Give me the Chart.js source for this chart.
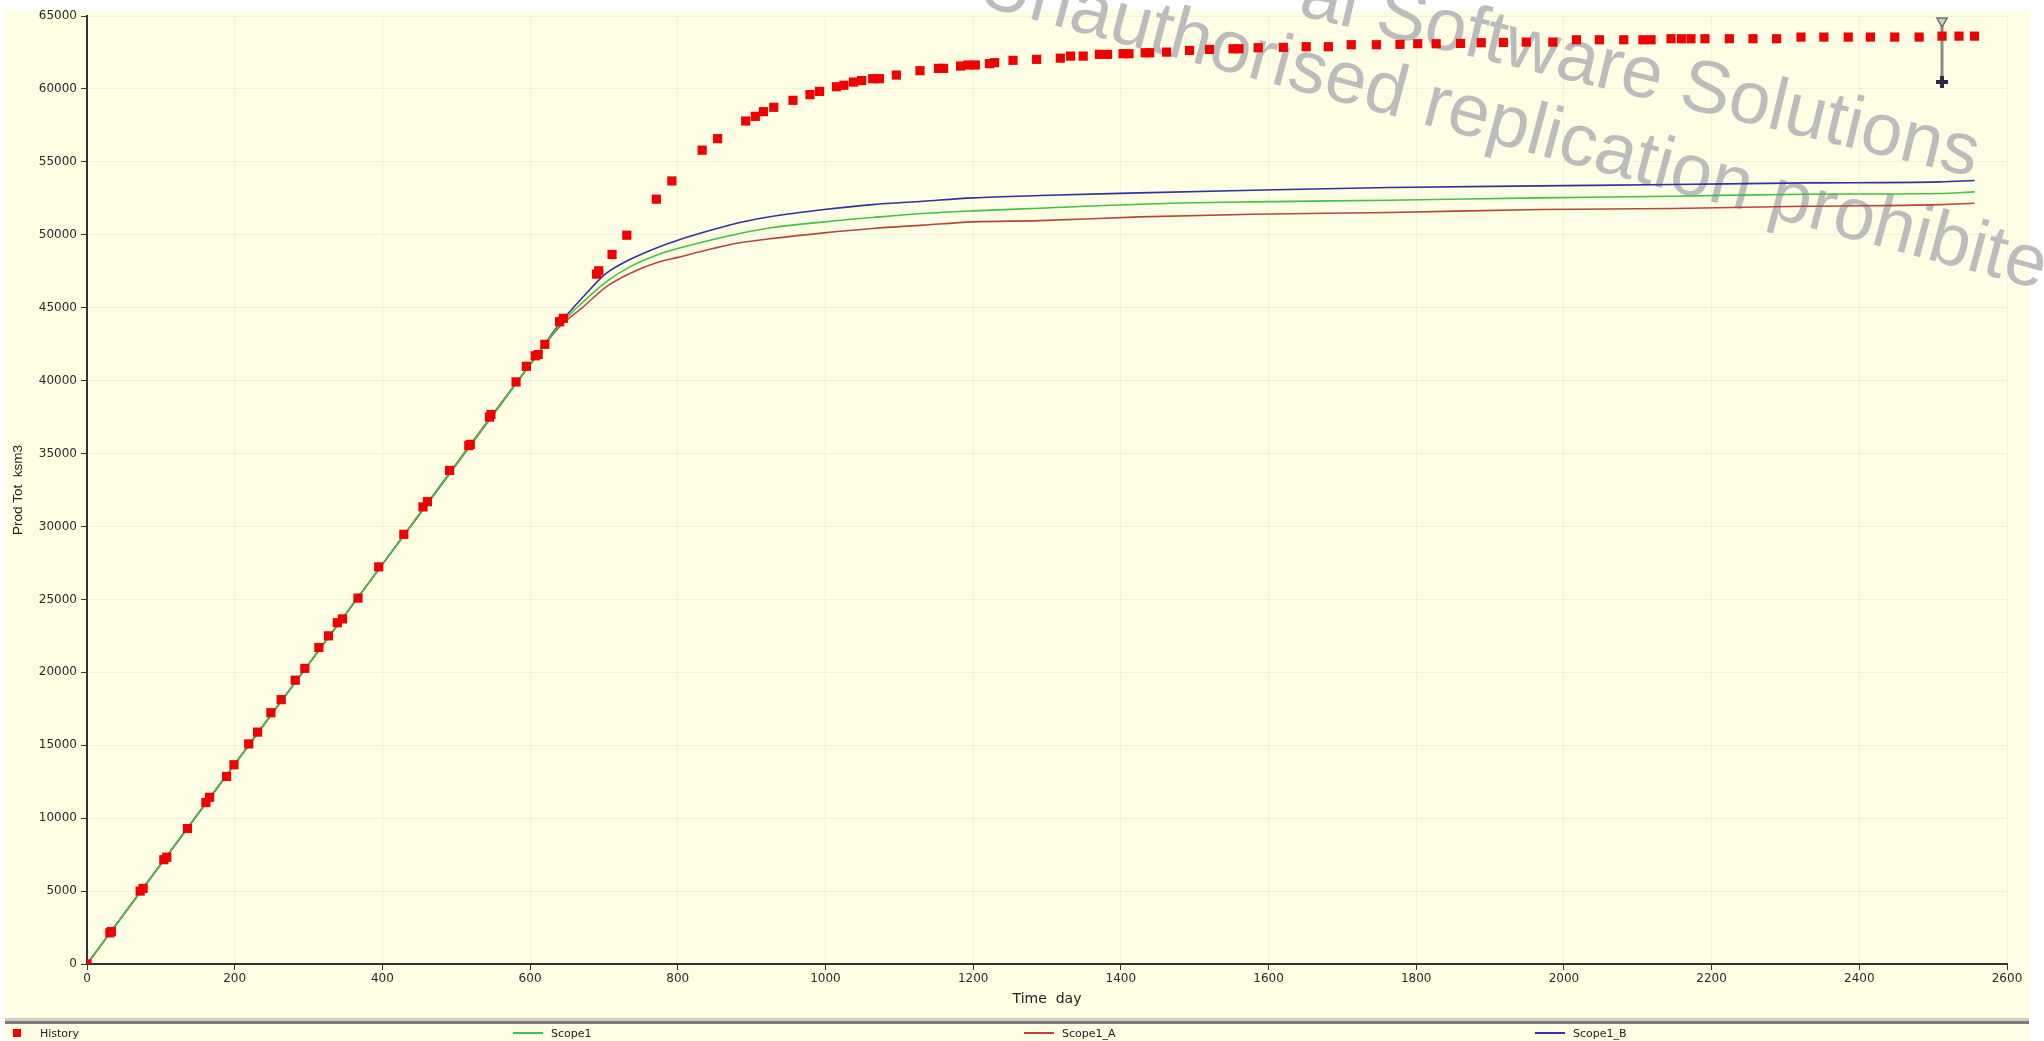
<!DOCTYPE html>
<html>
<head>
<meta charset="utf-8">
<script src="https://cdn.jsdelivr.net/npm/chart.js@4.4.1/dist/chart.umd.min.js"></script>
<style>
  html, body { margin: 0; padding: 0; background: #ffffff; }
  #wrap { position: relative; width: 2044px; height: 1041px; overflow: hidden; }
  #legend { position: absolute; left: 0; top: 1025px; width: 2044px; height: 16px; display: flex; }
  .item { width: 511px; display: flex; align-items: center; font: 11px "DejaVu Sans", sans-serif; color: #222; }
  .mark { width: 30px; margin-left: 2px; margin-right: 8px; display: flex; justify-content: center; align-items: center; }
</style>
</head>
<body>
<div id="wrap">
  <canvas id="prod-chart"></canvas>
  <div id="legend"></div>
</div>
<script>
// History (measured) cumulative production, day / ksm3
const historyDays = [0, 31, 33, 72, 76, 104, 108, 136, 161, 166, 189, 199, 219, 231, 249, 263, 282, 295, 314, 327, 339, 346, 367, 395, 429, 455, 461, 491, 517, 519, 545, 547, 581, 595, 607, 611, 620, 640, 645, 690, 693, 711, 731, 771, 792, 833, 854, 892, 905, 916, 930, 956, 979, 992, 1015, 1025, 1038, 1049, 1064, 1073, 1096, 1128, 1153, 1160, 1183, 1193, 1203, 1222, 1229, 1254, 1286, 1318, 1332, 1349, 1371, 1382, 1403, 1411, 1433, 1439, 1462, 1493, 1520, 1552, 1560, 1586, 1620, 1651, 1681, 1712, 1746, 1778, 1802, 1827, 1860, 1888, 1918, 1949, 1985, 2017, 2048, 2081, 2107, 2118, 2145, 2159, 2172, 2191, 2224, 2256, 2288, 2321, 2352, 2385, 2415, 2448, 2481, 2512, 2535, 2556];
const historyProd = [0, 2140, 2230, 5000, 5180, 7150, 7320, 9290, 11070, 11430, 12860, 13660, 15090, 15900, 17230, 18125, 19460, 20270, 21700, 22500, 23400, 23660, 25090, 27230, 29460, 31340, 31700, 33840, 35540, 35630, 37500, 37680, 39910, 40980, 41700, 41790, 42490, 44040, 44270, 47300, 47530, 48650, 49970, 52440, 53690, 55800, 56590, 57800, 58120, 58440, 58740, 59220, 59610, 59830, 60150, 60250, 60470, 60570, 60700, 60700, 60950, 61250, 61410, 61410, 61570, 61640, 61640, 61730, 61800, 61960, 62030, 62110, 62250, 62250, 62370, 62370, 62415, 62415, 62480, 62480, 62525, 62640, 62710, 62755, 62755, 62825, 62850, 62895, 62895, 63030, 63030, 63055, 63100, 63100, 63120, 63170, 63190, 63210, 63210, 63370, 63370, 63370, 63370, 63370, 63440, 63440, 63440, 63440, 63440, 63440, 63440, 63555, 63555, 63555, 63555, 63555, 63555, 63620, 63620, 63620];

// simulation cases
const simDays = [0, 200, 400, 600, 640, 672, 703, 735, 771, 800, 848, 884, 929, 998, 1064, 1132, 1200, 1290, 1425, 1579, 1764, 1967, 2148, 2328, 2509, 2556];
const scope1Prod = [0, 13700, 27400, 41100, 43800, 45400, 46770, 47800, 48600, 49060, 49680, 50090, 50500, 50885, 51185, 51460, 51640, 51820, 52095, 52255, 52370, 52530, 52645, 52780, 52830, 52940];
const scope1AProd = [0, 13700, 27400, 41100, 43700, 45060, 46430, 47350, 48080, 48450, 49060, 49450, 49750, 50130, 50430, 50660, 50885, 50970, 51225, 51410, 51530, 51730, 51800, 51960, 52070, 52165];
const scope1BProd = [0, 13700, 27400, 41100, 43900, 45750, 47350, 48300, 49100, 49630, 50360, 50840, 51270, 51730, 52070, 52300, 52530, 52690, 52870, 53055, 53240, 53350, 53445, 53555, 53625, 53720];

// range marker near the end of history
const markerDays = [2512, 2512];
const markerProd = [64650, 60470];

const seriesNames = ['History', 'Scope1', 'Scope1_A', 'Scope1_B'];
const seriesColors = ['#f00000', '#44c044', '#b5483c', '#32329a'];

function toPoints(xs, ys) {
    return xs.map((x, i) => ({ x: x, y: ys[i] }));
}

const backgroundPlugin = {
    id: 'background',
    beforeDraw(chart) {
        const c = chart.ctx;
        c.save();
        c.fillStyle = '#ffffff';
        c.fillRect(0, 0, chart.width, chart.height);
        c.fillStyle = '#fefee4';
        c.fillRect(5, 10, 2024, chart.height - 10);
        // separator above legend
        c.fillStyle = '#cfcfc8';
        c.fillRect(5, 1018, 2024, 3);
        c.fillStyle = '#7c7c7c';
        c.fillRect(5, 1021, 2024, 3);
        c.restore();
    }
};

const watermarkPlugin = {
    id: 'watermark',
    beforeDatasetsDraw(chart) {
        const c = chart.ctx;
        c.save();
        c.fillStyle = '#bcbcbc';
        c.font = '74px "Liberation Sans", Arial, sans-serif';
        c.textBaseline = 'alphabetic';

        c.save();
        c.translate(1973, 177);
        c.rotate(13.5 * Math.PI / 180);
        c.textAlign = 'right';
        c.fillText('al Software Solutions', 0, 0);
        c.restore();

        c.save();
        c.translate(975, 4);
        c.rotate(15 * Math.PI / 180);
        c.textAlign = 'left';
        c.fillText('Unauthorised replication prohibited', 0, 0);
        c.restore();

        c.restore();
    }
};

function plainNumber(value) {
    return String(value);
}

function renderProdChart() {
    const ctx = document.getElementById('prod-chart').getContext('2d');

    const chart = new Chart(ctx, {
        type: 'line',
        data: {
            datasets: [
                {
                    label: seriesNames[0],
                    data: toPoints(historyDays, historyProd),
                    showLine: false,
                    pointStyle: 'rect',
                    pointRadius: 6.5,
                    pointBorderWidth: 0,
                    pointBackgroundColor: seriesColors[0],
                    borderColor: seriesColors[0]
                },
                {
                    label: seriesNames[1],
                    data: toPoints(simDays, scope1Prod),
                    borderColor: seriesColors[1],
                    borderWidth: 1.6,
                    pointRadius: 0,
                    cubicInterpolationMode: 'monotone'
                },
                {
                    label: seriesNames[2],
                    data: toPoints(simDays, scope1AProd),
                    borderColor: seriesColors[2],
                    borderWidth: 1.6,
                    pointRadius: 0,
                    cubicInterpolationMode: 'monotone'
                },
                {
                    label: seriesNames[3],
                    data: toPoints(simDays, scope1BProd),
                    borderColor: seriesColors[3],
                    borderWidth: 1.6,
                    pointRadius: 0,
                    cubicInterpolationMode: 'monotone'
                },
                {
                    label: 'marker',
                    data: toPoints(markerDays, markerProd),
                    borderColor: '#8c8c86',
                    borderWidth: 3,
                    pointStyle: ['triangle', 'cross'],
                    rotation: [180, 0],
                    pointRadius: [6, 6],
                    pointBorderWidth: [1.5, 4],
                    pointBorderColor: ['#6e6e6e', '#2a2a44'],
                    pointBackgroundColor: ['#cfcfc4', '#2a2a44']
                }
            ]
        },
        options: {
            responsive: true,
            maintainAspectRatio: false,
            animation: false,
            layout: {
                padding: { left: 0, top: 16, right: 37, bottom: 0 }
            },
            scales: {
                x: {
                    type: 'linear',
                    min: 0,
                    max: 2600,
                    afterFit: function(scale) { scale.height = 77; },
                    ticks: {
                        stepSize: 200,
                        maxRotation: 0,
                        padding: 2,
                        color: '#2a2a2a',
                        font: { family: 'DejaVu Sans', size: 12 },
                        callback: plainNumber
                    },
                    grid: {
                        color: 'rgba(190,190,190,0.2)',
                        tickColor: '#333333',
                        tickLength: 6
                    },
                    border: { display: true, color: '#333333', width: 2 },
                    title: {
                        display: true,
                        text: 'Time  day',
                        color: '#222222',
                        font: { family: 'DejaVu Sans', size: 14 },
                        padding: { top: 0, bottom: 33 }
                    }
                },
                y: {
                    min: 0,
                    max: 65000,
                    afterFit: function(scale) { scale.width = 87; },
                    ticks: {
                        stepSize: 5000,
                        padding: 4,
                        color: '#2a2a2a',
                        font: { family: 'DejaVu Sans', size: 12 },
                        callback: plainNumber
                    },
                    grid: {
                        color: 'rgba(190,190,190,0.2)',
                        tickColor: '#333333',
                        tickLength: 6
                    },
                    border: { display: true, color: '#333333', width: 2 },
                    title: {
                        display: true,
                        text: 'Prod Tot  ksm3',
                        color: '#222222',
                        font: { family: 'Liberation Sans', size: 13.5 },
                        padding: { top: 10, bottom: 0 }
                    }
                }
            },
            plugins: {
                legend: { display: false },
                tooltip: { enabled: false }
            }
        },
        plugins: [backgroundPlugin, watermarkPlugin]
    });

    renderLegend(chart);
}

function renderLegend(chart) {
    const legend = document.getElementById('legend');
    seriesNames.forEach((name, i) => {
        const item = document.createElement('div');
        item.className = 'item';
        const mark = document.createElement('div');
        mark.className = 'mark';
        const sym = document.createElement('div');
        if (i === 0) {
            sym.style.width = '8px';
            sym.style.height = '8px';
        } else {
            sym.style.width = '30px';
            sym.style.height = '1.5px';
        }
        sym.style.background = chart.data.datasets[i].borderColor;
        mark.appendChild(sym);
        const label = document.createElement('span');
        label.textContent = name;
        item.appendChild(mark);
        item.appendChild(label);
        legend.appendChild(item);
    });
}

renderProdChart();
</script>
</body>
</html>
